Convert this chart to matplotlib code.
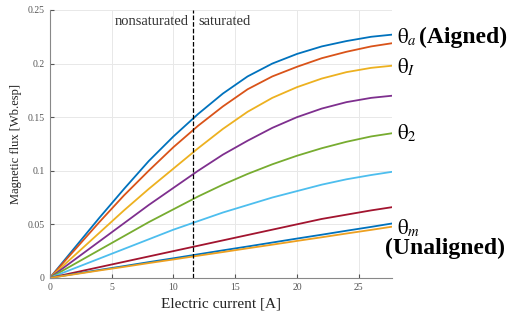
import matplotlib.pyplot as plt
import numpy as np

plt.rcParams['font.family'] = ['Liberation Serif', 'DejaVu Serif']
plt.rcParams['mathtext.fontset'] = 'stix'

# Current samples [A] and flux curves [Wb]
current = [0, 2, 4, 6, 8, 10, 12, 14, 16, 18, 20, 22, 24, 26, 27.7]
flux_a = [0, .028, .056, .083, .109, .132, .153, .172, .188, .200, .209, .216, .221, .225, .227]
flux_b = [0, .026, .052, .077, .100, .122, .142, .160, .176, .188, .197, .205, .211, .216, .219]
flux_1 = [0, .021, .042, .063, .083, .102, .121, .139, .155, .168, .178, .186, .192, .196, .198]
flux_c = [0, .017, .034, .051, .068, .084, .100, .115, .128, .140, .150, .158, .164, .168, .170]
flux_2 = [0, .013, .026, .039, .052, .064, .076, .087, .097, .106, .114, .121, .127, .132, .135]
flux_d = [0, .009, .018, .027, .036, .045, .053, .061, .068, .075, .081, .087, .092, .096, .099]
flux_e = [0, .005, .010, .015, .020, .025, .030, .035, .040, .045, .050, .055, .059, .063, .066]
flux_m = [0, .0037, .0074, .011, .0147, .0183, .022, .0257, .0293, .033, .0367, .0403, .044, .0476, .0508]
flux_f = [0, .0034, .0069, .0103, .0138, .0172, .0207, .0241, .0276, .031, .0345, .0379, .0414, .0448, .0478]

curves = [flux_a, flux_b, flux_1, flux_c, flux_2, flux_d, flux_e, flux_m, flux_f]
colors = ['#0072BD', '#D95319', '#EDB120', '#7E2F8E', '#77AC30',
          '#4DBEEE', '#A2142F', '#0072BD', '#EDA020']

fig = plt.figure(figsize=(5.14, 3.22), dpi=100)
ax = fig.add_axes([0.097, 0.137, 0.666, 0.832])

for y, c in zip(curves, colors):
    ax.plot(current, y, color=c, lw=1.3)

ax.axvline(11.6, color='black', ls='--', lw=0.9)
ax.text(11.2, 0.239, 'nonsaturated', ha='right', va='center', fontsize=10.5, color='#333333')
ax.text(12.0, 0.239, 'saturated', ha='left', va='center', fontsize=10.5, color='#333333')

ax.set_xlim(0, 27.7)
ax.set_ylim(0, 0.25)
ax.set_xticks([0, 5, 10, 15, 20, 25])
ax.set_yticks([0, 0.05, 0.1, 0.15, 0.2, 0.25])
ax.set_yticklabels(['0', '0.05', '0.1', '0.15', '0.2', '0.25'])
ax.tick_params(labelsize=7, colors='#555555', length=3, direction='in')
ax.grid(True, color='#e8e8e8', lw=0.7)
for s in ['top', 'right']:
    ax.spines[s].set_visible(False)
for s in ['left', 'bottom']:
    ax.spines[s].set_color('#888888')
ax.set_xlabel('Electric current [A]', fontsize=11, color='#222222')
ax.set_ylabel('Magnetic flux [Wb.esp]', fontsize=9, color='#222222')

fig.text(0.772, 0.885, r'$\mathrm{\theta}_a$', fontsize=15, va='center')
fig.text(0.816, 0.885, '(Aigned)', fontsize=17, fontweight='bold', va='center')
fig.text(0.772, 0.789, r'$\mathrm{\theta}_I$', fontsize=15, va='center')
fig.text(0.772, 0.587, r'$\mathrm{\theta}_2$', fontsize=15, va='center')
fig.text(0.772, 0.292, r'$\mathrm{\theta}_m$', fontsize=15, va='center')
fig.text(0.749, 0.228, '(Unaligned)', fontsize=17, fontweight='bold', va='center')

plt.savefig('out.png', dpi=100)
plt.close()
